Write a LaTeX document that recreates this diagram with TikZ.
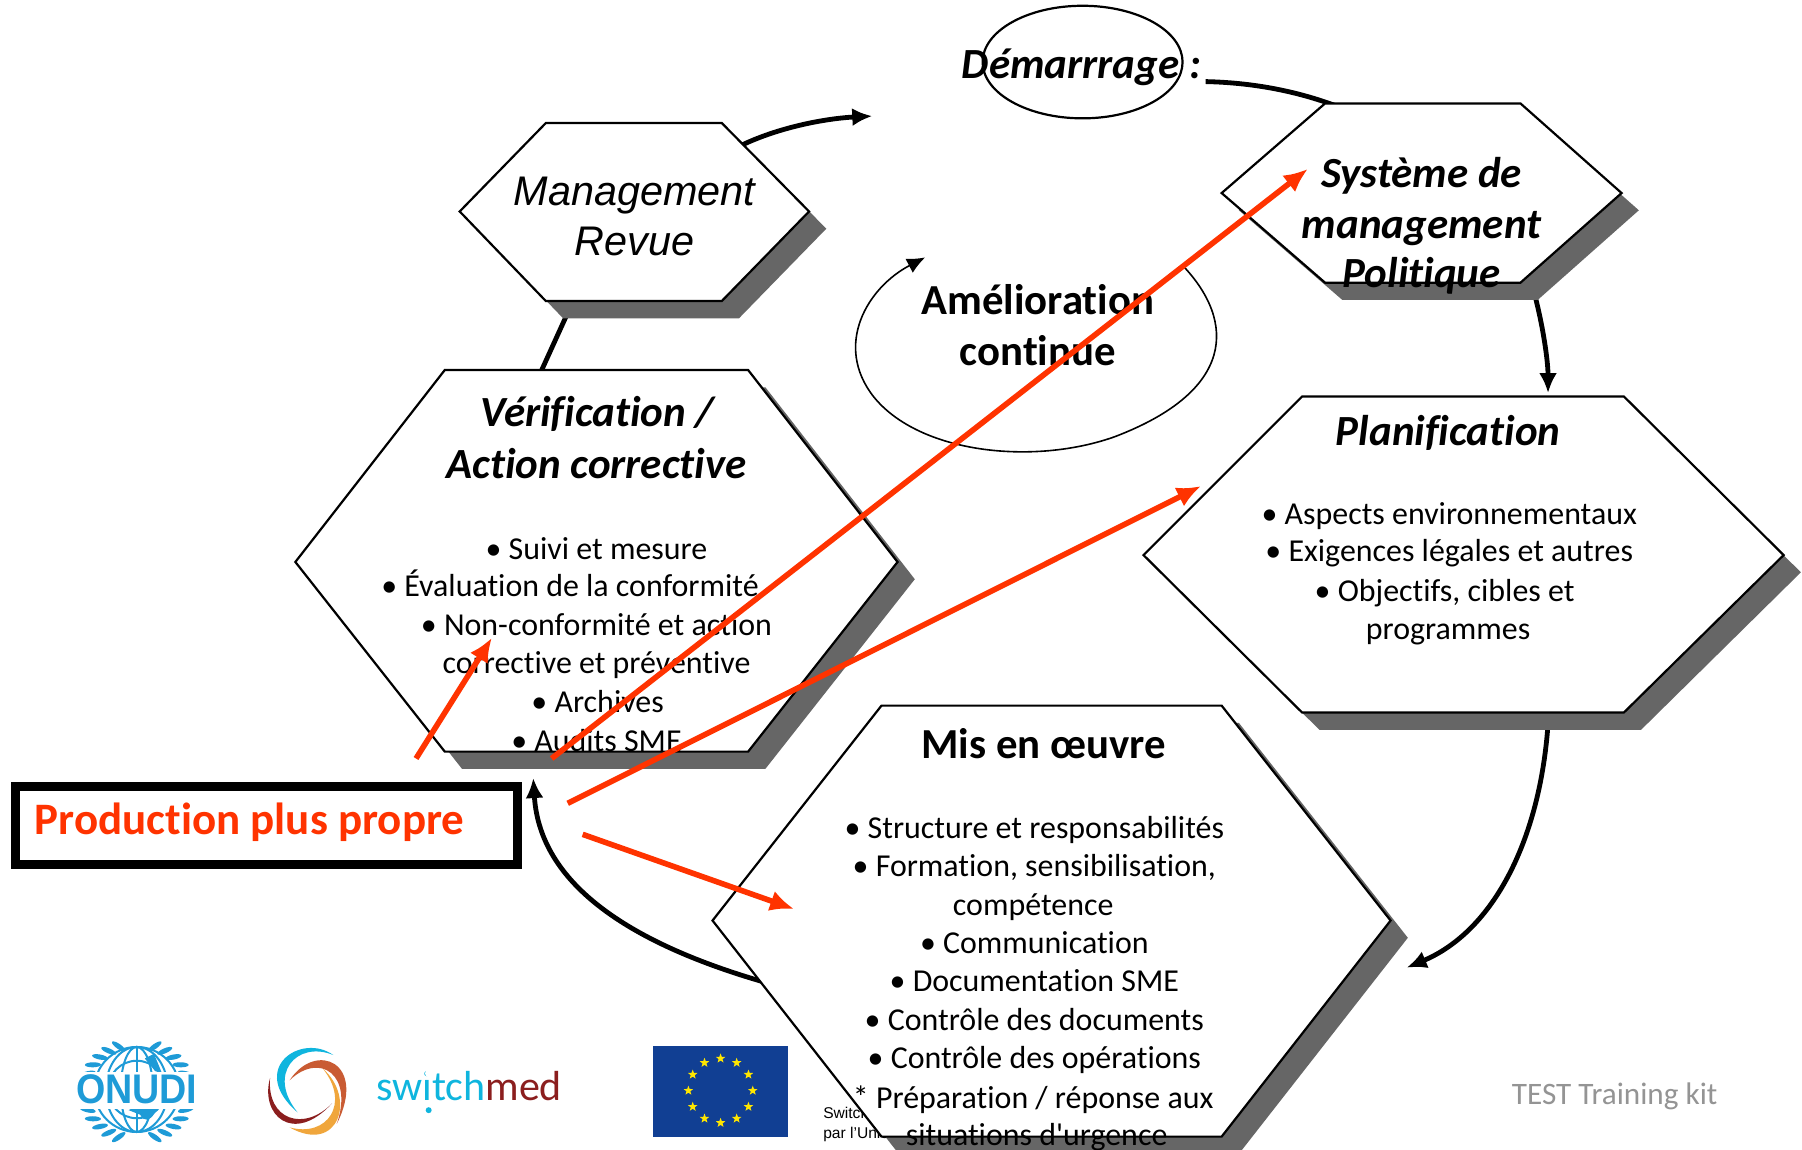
\documentclass[tikz,border=0pt]{standalone}
\usepackage{fontspec}
\defaultfontfeatures[\rmfamily]{}
\setmainfont{Carlito}[Ligatures=NoCommon]
\newfontfamily\arialf{Liberation Sans}
\usetikzlibrary{arrows.meta,shapes.geometric}
\definecolor{redo}{HTML}{FF3300}
\definecolor{shade}{HTML}{666666}
\definecolor{unblue}{HTML}{1E9BD7}
\definecolor{swcy}{HTML}{0FB5DE}
\definecolor{swor}{HTML}{C95B33}
\definecolor{swye}{HTML}{F0A63C}
\definecolor{swre}{HTML}{8B1E1E}
\definecolor{eublue}{HTML}{113F93}
\definecolor{eustar}{HTML}{FFE600}
\tikzset{
  x=0.5747pt,y=-0.5747pt,
  hexa/.style={draw=black,fill=white,line width=1.1pt,line join=miter},
  hexshadow/.style={fill=shade,draw=none},
  flow/.style={draw=black,line width=2.4pt,-{Latex[length=10pt,width=9pt]}},
  flowplain/.style={draw=black,line width=2.4pt},
  redarrow/.style={draw=redo,line width=2.8pt,-{Latex[length=12pt,width=10.5pt]}},
  body/.style={anchor=base,inner sep=0pt,font=\fontsize{15.96}{18}\selectfont,yshift=-.4pt},
  titlebi/.style={anchor=base,inner sep=0pt,font=\fontsize{21.5}{24}\selectfont\bfseries\itshape,yshift=-.8pt},
  titleb/.style={anchor=base,inner sep=0pt,font=\fontsize{21.4}{24}\selectfont\bfseries,yshift=-.6pt},
  mgmt/.style={anchor=base,inner sep=0pt,font=\fontsize{20.7}{24}\selectfont\arialf\itshape,yshift=-.8pt},
  small/.style={anchor=base west,inner sep=0pt,font=\fontsize{7.8}{9}\selectfont\arialf},
}
\begin{document}
\begin{tikzpicture}
\useasboundingbox (0,0) rectangle (1568,1000.6);
\fill[white] (0,0) rectangle (1568,1000.6);

% --- logos ---
\begin{scope}[unblue]
  \foreach \r in {13,25,37} \draw[line width=1pt] (119,948) circle[radius=\r];
  \draw[line width=1pt] (119,911) -- (119,985);
  \draw[line width=1pt] (119,948) ellipse[x radius=14,y radius=37];
  \draw[line width=1pt] (119,948) ellipse[x radius=27,y radius=37];
  \foreach \a in {110,122,...,170} {
    \fill[rotate around={\a-90+35:(119+46*cos \a,950-42*sin \a)}] (119+46*cos \a,950-42*sin \a) ellipse[x radius=2.2,y radius=7];
    \fill[rotate around={-(\a-90+35):(119-46*cos \a,950-42*sin \a)}] (119-46*cos \a,950-42*sin \a) ellipse[x radius=2.2,y radius=7];
    \fill[rotate around={-(\a-90+35):(119+46*cos \a,950+42*sin \a)}] (119+46*cos \a,950+42*sin \a) ellipse[x radius=2.2,y radius=7];
    \fill[rotate around={\a-90+35:(119-46*cos \a,950+42*sin \a)}] (119-46*cos \a,950+42*sin \a) ellipse[x radius=2.2,y radius=7];
  }
  \fill (112,966) .. controls (125,958) and (140,962) .. (135,968) .. controls (130,976) and (125,976) .. (122,970) -- cycle;
  \fill (126,921) -- (134,917) -- (141,934) -- (135,932) -- cycle;
\end{scope}
\fill[white] (60,933) rectangle (178,965);
\node[anchor=center,inner sep=0pt,text=unblue,xscale=.91] (onudi) at (119,948) {\fontsize{20.7}{22}\selectfont\arialf\bfseries ONUDI};

\fill[swre] (235,938) .. controls (226,970) and (255,997) .. (289,960) .. controls (265,985) and (232,975) .. (235,938) -- cycle;
\fill[swcy] (290,918) .. controls (262,898) and (215,930) .. (259,968) .. controls (232,935) and (258,905) .. (290,918) -- cycle;
\fill[swor] (252,940) .. controls (275,905) and (320,925) .. (293,978) .. controls (308,935) and (278,915) .. (252,940) -- cycle;
\fill[swye] (281,930) .. controls (310,955) and (295,1005) .. (252,981) .. controls (285,990) and (305,960) .. (281,930) -- cycle;
\node[anchor=base west,inner sep=0pt,font=\fontsize{21}{24}\selectfont] (swtext) at (327,958) {\textcolor{swcy}{switch}\textcolor{swre}{med}};
\fill[white] (373,934) circle[radius=3.2];
\fill[swcy] (373,966) circle[radius=2.6];

\fill[eublue] (568,910) rectangle (686,989);
\foreach \a in {0,30,...,330}
  \node[star,star points=5,star point ratio=2.4,fill=eustar,inner sep=0pt,minimum size=5pt] at ({627+28*cos(\a)},{949-28*sin(\a)}) {};

\node[small] (sw1) at (716,973) {Switch};
\node[small] (sw2) at (716,991) {par l’Union};

\node[anchor=base,inner sep=0pt,text=black!42,font=\fontsize{15.6}{18}\selectfont] (kit) at (1405,961) {TEST Training kit};

% --- named anchors for connectors ---
\coordinate (mgOut) at (646,126);
\coordinate (demIn) at (759,101);
\coordinate (demOut) at (1049,71);
\coordinate (sysIn) at (1170,95);
\coordinate (sysOut) at (1335,255);
\coordinate (planIn) at (1347,342);
\coordinate (planOut) at (1347,630);
\coordinate (misIn) at (1224,842);
\coordinate (misOut) at (670,856);
\coordinate (prodIn) at (464,677);
\coordinate (verOut) at (470,325);
\coordinate (mgIn) at (495,270);
\coordinate (ameA) at (1030,232);
\coordinate (ameB) at (805,224);

% --- connectors under the hexagons ---
\draw[flow] (mgOut) .. controls (680,110) and (720,103) .. (demIn);
\draw[flowplain] (demOut) .. controls (1095,72) and (1135,81) .. (sysIn);
\draw[flow] (sysOut) .. controls (1343,285) and (1347,315) .. (planIn);
\draw[flow] (planOut) .. controls (1340,730) and (1300,810) .. (misIn);
\draw[flow] (misOut) .. controls (560,825) and (470,775) .. (prodIn);
\draw[flowplain] (verOut) -- (mgIn);

\draw[line width=.8pt,-{Latex[length=9pt,width=8pt]}] (ameA) .. controls (1075,280) and (1075,340) .. (970,380) .. controls (900,405) and (800,395) .. (760,345) .. controls (725,300) and (755,250) .. (ameB);

\node[draw=black,line width=1.1pt,ellipse,minimum width=100pt,minimum height=56.3pt,inner sep=0pt] (demell) at (942,54) {};
\node[titlebi] (dem) at (941,67) {Démarrrage :};

% --- hexagons ---
\fill[hexshadow] (415,199) -- (490,122) -- (643,122) -- (719,199) -- (643,277) -- (490,277) -- cycle;
\draw[hexa] (400,184) -- (475,107) -- (628,107) -- (704,184) -- (628,262) -- (475,262) -- cycle;

\fill[hexshadow] (1078,183) -- (1168,105) -- (1338,105) -- (1426,183) -- (1338,261) -- (1168,261) -- cycle;
\draw[hexa] (1063,168) -- (1153,90) -- (1323,90) -- (1411,168) -- (1323,246) -- (1153,246) -- cycle;

\fill[hexshadow] (1010,498) -- (1148,360) -- (1428,360) -- (1567,498) -- (1428,635) -- (1148,635) -- cycle;
\draw[hexa] (995,483) -- (1133,345) -- (1413,345) -- (1552,483) -- (1413,620) -- (1133,620) -- cycle;

\fill[hexshadow] (272,504) -- (402,337) -- (666,337) -- (796,504) -- (666,669) -- (402,669) -- cycle;
\draw[hexa] (257,489) -- (387,322) -- (651,322) -- (781,489) -- (651,654) -- (387,654) -- cycle;

\fill[hexshadow] (635,816) -- (782,629) -- (1078,629) -- (1225,816) -- (1078,1004) -- (782,1004) -- cycle;
\draw[hexa] (620,801) -- (767,614) -- (1063,614) -- (1210,801) -- (1063,989) -- (767,989) -- cycle;

% --- hexagon texts ---
\node[mgmt] (m1) at (552,177) {Management};
\node[mgmt] (m2) at (552,221) {Revue};

\node[titlebi] (s1) at (1237,162) {Système de};
\node[titlebi] (s2) at (1237,206) {management};
\node[titlebi] (s3) at (1237,249) {Politique};

\node[titleb] (a1) at (903,273) {Amélioration};
\node[titleb] (a2) at (903,317) {continue};

\node[titlebi] (v0) at (520,370) {Vérification /};
\node[titlebi] (v00) at (519,415) {Action corrective};
\node[body] (v1) at (519,486) {• Suivi et mesure};
\node[body] (v2) at (496,518) {• Évaluation de la conformité};
\node[body] (v3) at (519,552) {• Non-conformité et action};
\node[body] (v4) at (519,585) {corrective et préventive};
\node[body] (v5) at (520,619) {• Archives};
\node[body] (v6) at (519,653) {• Audits SME};

\node[titlebi] (p0) at (1260,386) {Planification};
\node[body] (p1) at (1261,456) {• Aspects environnementaux};
\node[body] (p2) at (1261,488) {• Exigences légales et autres};
\node[body] (p3) at (1257,523) {• Objectifs, cibles et};
\node[body] (p4) at (1260,556) {programmes};

\node[titleb] (e0) at (908,659) {Mis en œuvre};
\node[body] (e1) at (900,729) {• Structure et responsabilités};
\node[body] (e2) at (900,762) {• Formation, sensibilisation,};
\node[body] (e3) at (899,796) {compétence};
\node[body] (e4) at (900,829) {• Communication};
\node[body] (e5) at (900,862) {• Documentation SME};
\node[body] (e6) at (900,896) {• Contrôle des documents};
\node[body] (e7) at (900,929) {• Contrôle des opérations};
\node[body] (e8) at (899,964) {* Préparation / réponse aux};
\node[body] (e9) at (902,996) {situations d'urgence};

% --- Production box ---
\node[draw=black,line width=4.5pt,fill=white,minimum width=251pt,minimum height=39pt,inner sep=0pt] (prod) at (232,718) {};
\node[anchor=base west,inner sep=0pt,text=redo,font=\fontsize{22.5}{25}\selectfont\bfseries] (prodt) at (30,726) {Production plus propre};

% --- red arrows ---
\coordinate (r1a) at (362,660); \coordinate (r1b) at (428,555);
\coordinate (r2a) at (480,660); \coordinate (r2b) at (1138,147);
\coordinate (r3a) at (494,699); \coordinate (r3b) at (1045,423);
\coordinate (r4a) at (507,726); \coordinate (r4b) at (691,791);
\draw[redarrow] (r1a) -- (r1b);
\draw[redarrow] (r2a) -- (r2b);
\draw[redarrow] (r3a) -- (r3b);
\draw[redarrow] (r4a) -- (r4b);
\end{tikzpicture}
\end{document}
